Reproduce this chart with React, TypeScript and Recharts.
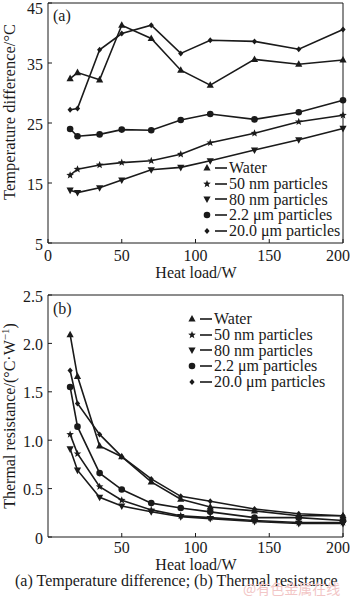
import React from 'react';
import { LineChart, Line, XAxis, YAxis, ReferenceLine, Legend } from 'recharts';

const heatLoad = [15, 20, 35, 50, 70, 90, 110, 140, 170, 200];
const seriesNames = ['Water', '50 nm particles', '80 nm particles', '2.2 μm particles', '20.0 μm particles'];
const seriesKeys = ['water', 'nm50', 'nm80', 'um2', 'um20'];
const seriesShapes = ['triUp', 'star', 'triDown', 'circle', 'diamond'];

const tempWater = [32.4, 33.4, 32.2, 41.3, 39.1, 33.8, 31.3, 35.6, 34.8, 35.5];
const temp50nm = [16.3, 17.3, 18.0, 18.4, 18.7, 19.8, 21.7, 23.3, 25.2, 26.3];
const temp80nm = [13.8, 13.4, 14.2, 15.5, 17.2, 17.6, 18.7, 20.5, 22.2, 24.1];
const temp2um = [24.0, 22.8, 23.1, 23.9, 23.8, 25.5, 26.5, 25.6, 26.8, 28.8];
const temp20um = [27.2, 27.4, 37.2, 39.9, 41.3, 36.6, 38.8, 38.6, 37.3, 40.6];

const resWater = [2.09, 1.66, 0.94, 0.83, 0.57, 0.39, 0.31, 0.27, 0.22, 0.22];
const res50nm = [1.06, 0.86, 0.52, 0.38, 0.28, 0.22, 0.2, 0.17, 0.15, 0.15];
const res80nm = [0.91, 0.69, 0.41, 0.32, 0.26, 0.21, 0.19, 0.16, 0.14, 0.14];
const res2um = [1.55, 1.14, 0.66, 0.49, 0.35, 0.3, 0.26, 0.2, 0.2, 0.17];
const res20um = [1.72, 1.38, 1.06, 0.83, 0.6, 0.42, 0.37, 0.29, 0.24, 0.22];

const xTicksA = [0, 50, 100, 150, 200];
const yTicksA = [5, 15, 25, 35, 45];
const xTicksB = [50, 100, 150, 200];
const yTicksB = [0, 0.5, 1.0, 1.5, 2.0, 2.5];

const tempSeries = [tempWater, temp50nm, temp80nm, temp2um, temp20um];
const resSeries = [resWater, res50nm, res80nm, res2um, res20um];

const build = (series: number[][]) =>
  heatLoad.map((h, i) => {
    const row: any = { load: h };
    seriesKeys.forEach((k, j) => (row[k] = series[j][i]));
    return row;
  });

const dataA = build(tempSeries);
const dataB = build(resSeries);

const FONT = '"Liberation Serif", "Times New Roman", serif';
const INK = '#1a1a1a';

const Marker = ({ shape, cx, cy }: { shape: string; cx: number; cy: number }) => {
  if (shape === 'triUp') {
    return <polygon points={`${cx},${cy - 4} ${cx - 3.6},${cy + 2.6} ${cx + 3.6},${cy + 2.6}`} fill={INK} />;
  }
  if (shape === 'triDown') {
    return <polygon points={`${cx},${cy + 4} ${cx - 3.6},${cy - 2.6} ${cx + 3.6},${cy - 2.6}`} fill={INK} />;
  }
  if (shape === 'circle') {
    return <circle cx={cx} cy={cy} r={3.3} fill={INK} />;
  }
  if (shape === 'diamond') {
    return <polygon points={`${cx},${cy - 3} ${cx + 2.6},${cy} ${cx},${cy + 3} ${cx - 2.6},${cy}`} fill={INK} />;
  }
  const pts: string[] = [];
  for (let i = 0; i < 10; i++) {
    const r = i % 2 === 0 ? 4 : 1.7;
    const a = -Math.PI / 2 + (i * Math.PI) / 5;
    pts.push(`${cx + r * Math.cos(a)},${cy + r * Math.sin(a)}`);
  }
  return <polygon points={pts.join(' ')} fill={INK} />;
};

const makeDot = (shape: string) => (props: any) => {
  const { cx, cy, index } = props;
  if (cx == null || cy == null) return <g key={`d-${shape}-${index}`} />;
  return (
    <g key={`d-${shape}-${index}`}>
      <Marker shape={shape} cx={cx} cy={cy} />
    </g>
  );
};

const makeXTick = (dy: number) => (props: any) => {
  const { x, y, payload } = props;
  const shift = payload.value === 200 ? -5 : 0;
  return (
    <g>
      <line x1={x} y1={y} x2={x} y2={y - 4} stroke={INK} strokeWidth={1} />
      <text x={x + shift} y={y + dy} textAnchor="middle" dominantBaseline="central" fontSize={16} fontFamily={FONT} fill={INK}>
        {payload.value}
      </text>
    </g>
  );
};

const makeYTick = (fmt: (v: number) => string) => (props: any) => {
  const { x, y, payload } = props;
  const ty = Math.max(y + 1, 8);
  return (
    <g>
      <line x1={x} y1={y} x2={x + 4} y2={y} stroke={INK} strokeWidth={1} />
      <text x={x - 5} y={ty} textAnchor="end" dominantBaseline="central" fontSize={16} fontFamily={FONT} fill={INK}>
        {fmt(payload.value)}
      </text>
    </g>
  );
};

const LegendBox = (props: any) => {
  const payload = [...(props.payload || [])].sort(
    (a: any, b: any) => seriesKeys.indexOf(a.dataKey) - seriesKeys.indexOf(b.dataKey)
  );
  return (
    <div style={{ fontFamily: FONT, fontSize: 16, color: INK, lineHeight: '15.8px' }}>
      {payload.map((p: any, i: number) => {
        const idx = seriesKeys.indexOf(p.dataKey);
        return (
          <div key={i} style={{ display: 'flex', alignItems: 'center', height: 15.8, whiteSpace: 'nowrap' }}>
            <svg width={27} height={14} style={{ display: 'block' }}>
              <Marker shape={seriesShapes[idx]} cx={5} cy={7} />
              <line x1={13} y1={7} x2={25} y2={7} stroke={INK} strokeWidth={1.6} />
            </svg>
            <span>{p.value}</span>
          </div>
        );
      })}
    </div>
  );
};

const renderLines = () =>
  seriesKeys.map((k, j) => (
    <Line
      key={k}
      dataKey={k}
      name={seriesNames[j]}
      stroke={INK}
      strokeWidth={1.6}
      dot={makeDot(seriesShapes[j])}
      activeDot={false}
      isAnimationActive={false}
      legendType="line"
    />
  ));

const YLabelA = () => (
  <text transform="translate(15, 112) rotate(-90)" textAnchor="middle" fontSize={16.5} fontFamily={FONT} fill={INK}>
    Temperature difference/°C
  </text>
);

const YLabelB = () => (
  <text transform="translate(15, 131) rotate(-90)" textAnchor="middle" fontSize={16} fontFamily={FONT} fill={INK}>
    Thermal resistance/(°C·W
    <tspan dy={-6} fontSize={11}>−1</tspan>
    <tspan dy={6}>)</tspan>
  </text>
);

const XLabel = (cy: number) => () => (
  <text x={196} y={cy} textAnchor="middle" dominantBaseline="central" fontSize={16} fontFamily={FONT} fill={INK}>
    Heat load/W
  </text>
);

const PanelTag = (txt: string, y: number) => () => (
  <text x={53} y={y} dominantBaseline="central" fontSize={16} fontFamily={FONT} fill={INK}>
    {txt}
  </text>
);

export default function App() {
  return (
    <div style={{ position: 'absolute', left: 0, top: 0, width: 350, height: 596, background: '#fff', overflow: 'hidden' }}>
      <div style={{ position: 'absolute', left: 0, top: 0 }}>
        <LineChart width={350} height={285} data={dataA} margin={{ top: 3, right: 7, left: 0, bottom: 0 }}>
          <XAxis
            dataKey="load"
            type="number"
            domain={[0, 200]}
            ticks={xTicksA}
            tickSize={0}
            tickMargin={0}
            tickLine={false}
            tick={makeXTick(12)}
            height={42}
            stroke={INK}
            interval={0}
            label={{ content: XLabel(272) as any }}
          />
          <YAxis
            type="number"
            domain={[5, 45]}
            ticks={yTicksA}
            tickSize={0}
            tickMargin={0}
            tickLine={false}
            tick={makeYTick((v) => String(v))}
            width={48}
            stroke={INK}
            interval={0}
            label={{ content: YLabelA as any }}
          />
          <ReferenceLine y={45} stroke={INK} strokeWidth={1} ifOverflow="visible" label={{ content: PanelTag('(a)', 15) as any }} />
          <ReferenceLine x={200} stroke={INK} strokeWidth={1} ifOverflow="visible" />
          {renderLines()}
          <Legend
            content={<LegendBox />}
            layout="vertical"
            align="center"
            verticalAlign="middle"
            wrapperStyle={{ left: 202, top: 160, width: 150 }}
          />
        </LineChart>
      </div>
      <div style={{ position: 'absolute', left: 0, top: 285 }}>
        <LineChart width={350} height={290} data={dataB} margin={{ top: 10, right: 7, left: 0, bottom: 0 }}>
          <XAxis
            dataKey="load"
            type="number"
            domain={[0, 200]}
            ticks={xTicksB}
            tickSize={0}
            tickMargin={0}
            tickLine={false}
            tick={makeXTick(10)}
            height={38}
            stroke={INK}
            interval={0}
            label={{ content: XLabel(279) as any }}
          />
          <YAxis
            type="number"
            domain={[0, 2.5]}
            ticks={yTicksB}
            tickSize={0}
            tickMargin={0}
            tickLine={false}
            tick={makeYTick((v) => (v === 0 ? '0' : v.toFixed(1)))}
            width={48}
            stroke={INK}
            interval={0}
            label={{ content: YLabelB as any }}
          />
          <ReferenceLine y={2.5} stroke={INK} strokeWidth={1} ifOverflow="visible" label={{ content: PanelTag('(b)', 23) as any }} />
          <ReferenceLine x={200} stroke={INK} strokeWidth={1} ifOverflow="visible" />
          {renderLines()}
          <Legend
            content={<LegendBox />}
            layout="vertical"
            align="center"
            verticalAlign="middle"
            wrapperStyle={{ left: 187, top: 26, width: 160 }}
          />
        </LineChart>
      </div>
      <div
        style={{
          position: 'absolute',
          left: 15,
          top: 572,
          fontFamily: FONT,
          fontSize: 16,
          lineHeight: '18px',
          color: INK,
          whiteSpace: 'nowrap',
        }}
      >
        (a) Temperature difference; (b) Thermal resistance
      </div>
      <div
        style={{
          position: 'absolute',
          left: 243,
          top: 580,
          fontFamily: '"Noto Sans CJK SC", sans-serif',
          fontSize: 14,
          lineHeight: '16px',
          color: '#f2c6c6',
          whiteSpace: 'nowrap',
        }}
      >
        @有色金属在线
      </div>
    </div>
  );
}
